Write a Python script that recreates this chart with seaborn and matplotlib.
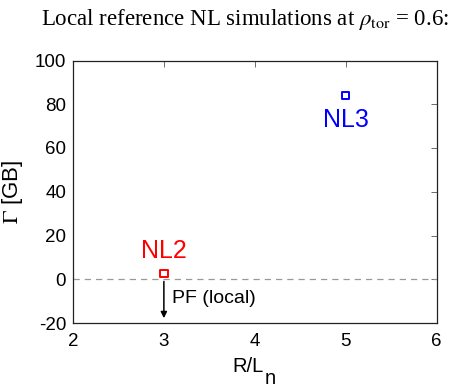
import matplotlib
matplotlib.use("Agg")
import matplotlib.pyplot as plt
import seaborn as sns
import pandas as pd

# Simulation points
names = ["NL2", "NL3"]
r_ln = [3.0, 5.0]
gamma = [2.6, 84.0]
colors = ["#ff0000", "#0000ff"]
label_y = [13.0, 73.0]

# Local particle-flux arrow (from, to) at R/L_n = 3
arrow_x = 3.0
arrow_y = [-1.0, -17.8]
arrow_text = "PF (local)"

x_ticks = [2, 3, 4, 5, 6]
y_ticks = [-20, 0, 20, 40, 60, 80, 100]

sns.set_style("white")
plt.rcParams["font.family"] = ["Liberation Sans", "DejaVu Sans"]
plt.rcParams["mathtext.fontset"] = "stix"
plt.rcParams["text.color"] = "black"
plt.rcParams["axes.labelcolor"] = "black"
plt.rcParams["xtick.color"] = "black"
plt.rcParams["ytick.color"] = "black"

df = pd.DataFrame({"name": names, "R/Ln": r_ln, "Gamma": gamma})

W, H = 458, 387
fig = plt.figure(figsize=(W / 100, H / 100), dpi=100)
ax = fig.add_axes([73 / W, 1 - 323 / H, (436.5 - 73) / W, (323 - 60.5) / H])

ax.axhline(0, color="#999999", lw=0.9, ls=(0, (5, 4)), zorder=1)

sns.scatterplot(data=df, x="R/Ln", y="Gamma", hue="name", palette=colors,
                marker="s", s=30, linewidth=1.4, legend=False, ax=ax, zorder=3)
for c in ax.collections:
    c.set_facecolor("none")
    c.set_edgecolor(colors)

for n, x, ly, col in zip(names, r_ln, label_y, colors):
    ax.text(x, ly, n, color=col, fontsize=18, ha="center", va="center")

ax.annotate("", xy=(arrow_x, arrow_y[1]), xytext=(arrow_x, arrow_y[0]),
            arrowprops=dict(arrowstyle="-|>", color="black", lw=1.1,
                            mutation_scale=9, shrinkA=0, shrinkB=0))
ax.text(arrow_x + 0.09, -8.6, arrow_text, fontsize=14, ha="left", va="center")

ax.set_xlim(2, 6)
ax.set_ylim(-20, 100)
ax.set_xticks(x_ticks)
ax.set_yticks(y_ticks)
ax.set_xticklabels([str(v) for v in x_ticks])
ax.set_yticklabels([str(v) for v in y_ticks])
ax.tick_params(direction="in", length=4, width=0.6, color="#555555",
               labelsize=13.5, top=True, right=True)
ax.tick_params(axis="x", pad=7)
ax.tick_params(axis="y", pad=5)
for s in ax.spines.values():
    s.set_visible(True)
    s.set_color("#222222")
    s.set_linewidth(0.9)

# x label: "R/L" with a full-size, lowered "n"
ax.set_xlabel("")
fig.text(264 / W, 1 - 366.5 / H, "R/L", fontsize=14.5, ha="right", va="center")
fig.text(265 / W, 1 - 383.5 / H, "n", fontsize=14.5, ha="left", va="baseline")

ax.set_ylabel(r"$\Gamma$ [GB]", fontsize=16, labelpad=7)

fig.text(0.535, 1 - 19 / H, r"Local reference NL simulations at $\rho_{\rm tor}$ = 0.6:",
         family="Liberation Serif", fontsize=16.5, ha="center", va="center")

fig.savefig("out.png", dpi=100)
